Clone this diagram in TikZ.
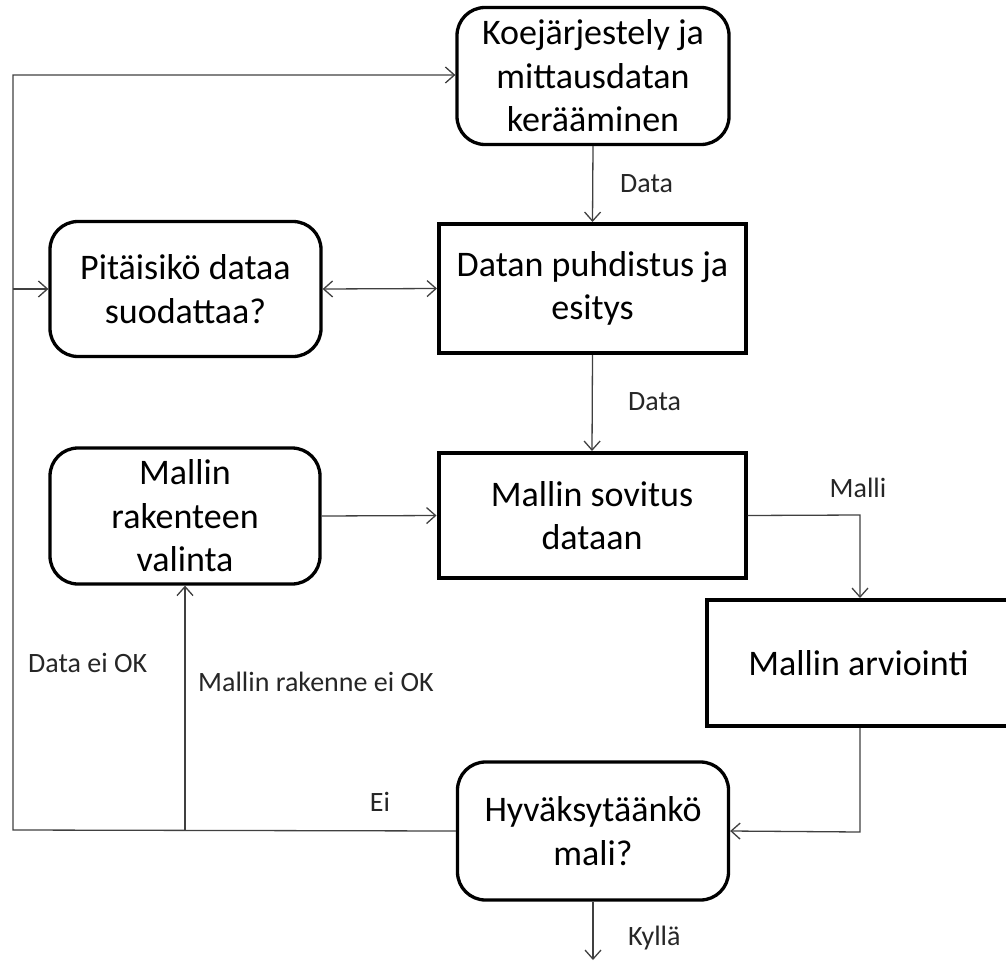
\documentclass[tikz,border=0pt]{standalone}
\usepackage{fontspec}
\setmainfont{Carlito}
\usetikzlibrary{arrows.meta}
\definecolor{linegray}{HTML}{404040}
\tikzset{
  >={Straight Barb[length=9pt,width=16pt,line width=1.3pt]},
  box/.style={draw=black, line width=4pt, align=center, inner sep=0pt,
    font=\fontsize{36}{43.5}\selectfont},
  rbox/.style={box, rounded corners=28pt, line width=3.3pt},
  conn/.style={draw=linegray, line width=1.3pt, ->},
  lbl/.style={font=\fontsize{28}{32}\selectfont, text=black!85, inner sep=0pt},
}
\begin{document}
\begin{tikzpicture}[x=1pt,y=-1pt]
\useasboundingbox (0,0) rectangle (1006,963);
\node[rbox, minimum width=272pt, minimum height=137pt] (koe) at (593,76)
  {Koejärjestely ja\\mittausdatan\\kerääminen};
\node[rbox, minimum width=271pt, minimum height=135pt] (pit) at (185.5,289)
  {Pitäisikö dataa\\suodattaa?};
\node[box, minimum width=307pt, minimum height=129pt] (dat) at (592.5,288.5)
  {Datan puhdistus ja\\esitys};
\node[rbox, minimum width=270pt, minimum height=136pt] (val) at (185,516)
  {Mallin\\rakenteen\\valinta};
\node[box, minimum width=307pt, minimum height=125pt] (sov) at (592,515.5)
  {Mallin sovitus\\dataan};
\node[box, minimum width=303pt, minimum height=126pt] (arv) at (858.5,663)
  {Mallin arviointi};
\node[rbox, minimum width=271pt, minimum height=138pt] (hyv) at (593,831)
  {Hyväksytäänkö\\mali?};

\coordinate (c1) at (13,830);
\coordinate (c2) at (13,75);
\coordinate (c3) at (13,289);
\coordinate (c4) at (185,830);
\coordinate (c5) at (860,515);
\coordinate (c6) at (860,832);
\coordinate (end) at (593,960);

\draw[conn] (koe.south) -- (dat.north);
\draw[conn,<->] (pit.east) -- (dat.west);
\draw[conn] (dat.south) -- (sov.north);
\draw[conn] (val.east) -- (sov.west);
\draw[conn] (sov.east) -- (c5) -- (arv.north -| c5);
\draw[conn] (arv.south -| c6) -- (c6) -- (hyv.east);
\draw[conn] (hyv.west) -- (c1) -- (c2) -- (koe.west |- c2);
\draw[conn] (c3) -- (pit.west);
\draw[conn] (c4) -- (val.south -| c4);
\draw[conn] (hyv.south) -- (end);

\node[lbl, anchor=west] (l1) at (620,184) {Data};
\node[lbl, anchor=west] (l2) at (628,402) {Data};
\node[lbl] (l3) at (858,488) {Malli};
\node[lbl] (l4) at (380,802) {Ei};
\node[lbl, anchor=west] (l5) at (28,663) {Data ei OK};
\node[lbl, anchor=west] (l6) at (198,682) {Mallin rakenne ei OK};
\node[lbl, anchor=west] (l7) at (628,938) {Kyllä};
\end{tikzpicture}
\end{document}
